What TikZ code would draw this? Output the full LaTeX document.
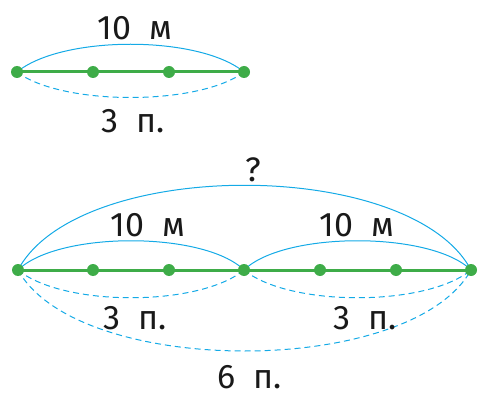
\documentclass[tikz,border=0pt]{standalone}
\usepackage{fontspec}
\setmainfont{Fira Sans}
\definecolor{dgreen}{RGB}{62,172,72}
\definecolor{lblue}{RGB}{20,170,230}
\begin{document}
\begin{tikzpicture}[x=1pt,y=-1pt,
  dot/.style={circle,fill=dgreen,inner sep=0pt,minimum size=12pt},
  seg/.style={draw=dgreen,line width=3pt},
  arc/.style={draw=lblue,line width=1pt},
  darc/.style={draw=lblue,line width=1pt,dash pattern=on 6pt off 4pt},
  lab/.style={font=\fontsize{34}{38}\selectfont,inner sep=0pt,text=black!90}]
\useasboundingbox (0,0) rectangle (484,398);
% top diagram
\coordinate (t0) at (17,72);
\coordinate (t1) at (93,72);
\coordinate (t2) at (169,72);
\coordinate (t3) at (244,72);
\path[arc] (t0) .. controls +(45,-37) and +(-45,-37) .. (t3);
\path[darc] (t0) .. controls +(45,34) and +(-45,34) .. (t3);
\path[seg] (t0) -- (t3);
\foreach \p in {t0,t1,t2,t3} \node[dot] (d\p) at (\p) {};
\node[lab] (l1) at (135,28) {10\ \ м};
\node[lab] (l2) at (133,121) {3\ \ п.};
% bottom diagram
\coordinate (b0) at (18,270);
\coordinate (b1) at (93,270);
\coordinate (b2) at (169,270);
\coordinate (b3) at (244,270);
\coordinate (b4) at (320,270);
\coordinate (b5) at (396,270);
\coordinate (b6) at (471,270);
\path[arc] (b0) .. controls +(60,-113) and +(-60,-113) .. (b6);
\path[arc] (b0) .. controls +(40,-39) and +(-40,-39) .. (b3);
\path[arc] (b3) .. controls +(40,-39) and +(-40,-39) .. (b6);
\path[darc] (b0) .. controls +(45,37) and +(-45,37) .. (b3);
\path[darc] (b3) .. controls +(45,37) and +(-45,37) .. (b6);
\path[darc] (b0) .. controls +(60,108) and +(-60,108) .. (b6);
\path[seg] (b0) -- (b6);
\foreach \p in {b0,b1,b2,b3,b4,b5,b6} \node[dot] (d\p) at (\p) {};
\node[lab] (q) at (253,170) {?};
\node[lab] (l3) at (148,225) {10\ \ м};
\node[lab] (l4) at (357,225) {10\ \ м};
\node[lab] (l5) at (135,318) {3\ \ п.};
\node[lab] (l6) at (365,318) {3\ \ п.};
\node[lab] (l7) at (250,377) {6\ \ п.};
\end{tikzpicture}
\end{document}
